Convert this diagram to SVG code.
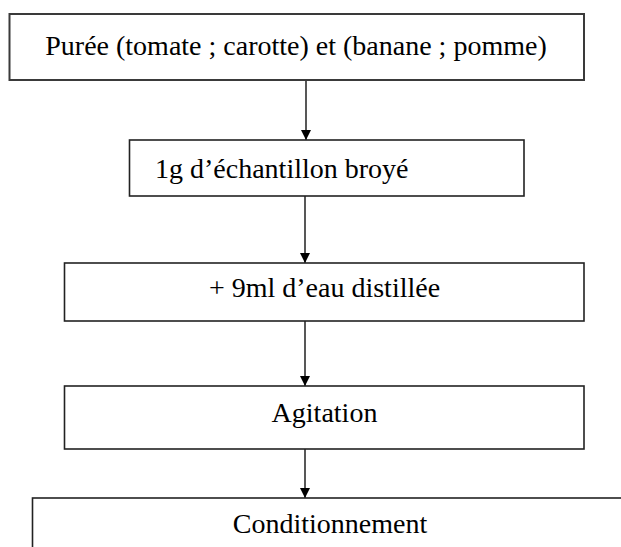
<svg xmlns="http://www.w3.org/2000/svg" width="621" height="547" viewBox="0 0 621 547">
<defs>
<style>
.box{fill:#fff;stroke:#222;stroke-width:1.6}
.t{font-family:"Liberation Serif","Times New Roman",serif;font-size:28px;fill:#000}
.c{text-anchor:middle}
.ln{stroke:#111;stroke-width:1.4;fill:none}
</style>
<marker id="ah" viewBox="0 0 10 10" refX="10" refY="5" markerWidth="10" markerHeight="10" markerUnits="userSpaceOnUse" orient="auto">
<path d="M0,0 L10,5 L0,10 Z" fill="#000"/>
</marker>
</defs>
<rect width="621" height="547" fill="#fff"/>
<g id="connectors">
<line class="ln" x1="306" y1="80" x2="306" y2="140" marker-end="url(#ah)"/>
<line class="ln" x1="305" y1="196" x2="305" y2="263" marker-end="url(#ah)"/>
<line class="ln" x1="305" y1="321" x2="305" y2="386" marker-end="url(#ah)"/>
<line class="ln" x1="305" y1="449" x2="305" y2="498" marker-end="url(#ah)"/>
</g>
<g id="n1">
<rect class="box" x="9.5" y="14" width="574.5" height="66" style="stroke:#3a3a3a;stroke-width:2"/>
<text class="t c" x="296" y="55">Purée (tomate ; carotte) et (banane ; pomme)</text>
</g>
<g id="n2">
<rect class="box" x="129.5" y="140" width="394.5" height="56"/>
<text class="t" x="155" y="178">1g d’échantillon broyé</text>
</g>
<g id="n3">
<rect class="box" x="64.5" y="263" width="519.5" height="58"/>
<text class="t c" x="324.5" y="297">+ 9ml d’eau distillée</text>
</g>
<g id="n4">
<rect class="box" x="64.5" y="386" width="519.5" height="63"/>
<text class="t c" x="324.5" y="422">Agitation</text>
</g>
<g id="n5">
<rect class="box" x="32.5" y="498" width="620" height="100"/>
<text class="t c" x="330" y="533">Conditionnement</text>
</g>
</svg>
